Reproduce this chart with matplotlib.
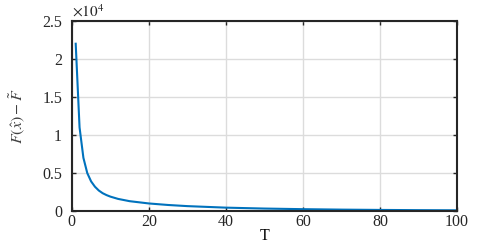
import matplotlib
matplotlib.use('Agg')
import matplotlib.pyplot as plt
from matplotlib.ticker import FuncFormatter

plt.rcParams['font.family'] = ['Liberation Serif', 'DejaVu Serif']
plt.rcParams['mathtext.fontset'] = 'stix'

# values
T = [1, 2, 3, 4, 5, 6, 7, 8, 9, 10, 12, 15, 20, 25, 30, 40, 50, 60, 70, 80, 90, 100]
gap = [22000, 11000, 7000, 5000, 3900, 3200, 2700, 2350, 2100, 1900, 1600,
       1300, 1000, 800, 650, 450, 330, 250, 190, 150, 120, 100]
xticks = [0, 20, 40, 60, 80, 100]
yticks = [0, 5000, 10000, 15000, 20000, 25000]

fig = plt.figure(figsize=(4.79, 2.46), dpi=100)
ax = fig.add_axes([0.150, 0.142, 0.804, 0.773])

ax.plot(T, gap, color='#0072BD', linewidth=1.5)

ax.set_xlim(0, 100)
ax.set_ylim(0, 25000)
ax.set_xticks(xticks)
ax.set_yticks(yticks)
ax.yaxis.set_major_formatter(FuncFormatter(lambda v, p: f'{v / 1e4:g}'))
ax.grid(True, color='#dcdcdc', linewidth=1.0)
ax.set_axisbelow(True)

ax.tick_params(direction='in', length=3, width=1, labelsize=11.5,
               top=True, right=True, colors='#262626', labelcolor='#262626')
ax.tick_params(axis='y', pad=7)
ax.tick_params(axis='x', pad=2)
for s in ax.spines.values():
    s.set_linewidth(1.5)
    s.set_color('#262626')

ax.text(0.0, 1.005, r'$\times10^4$', transform=ax.transAxes,
        fontsize=11, color='#262626', va='bottom', ha='left')
ax.set_xlabel('T', fontsize=11.5, labelpad=-1)
ax.set_ylabel(r'$F(\hat{x})-\tilde{F}$', fontsize=11.5, labelpad=10,
              color='#404040')

plt.savefig('out.png', dpi=100)
